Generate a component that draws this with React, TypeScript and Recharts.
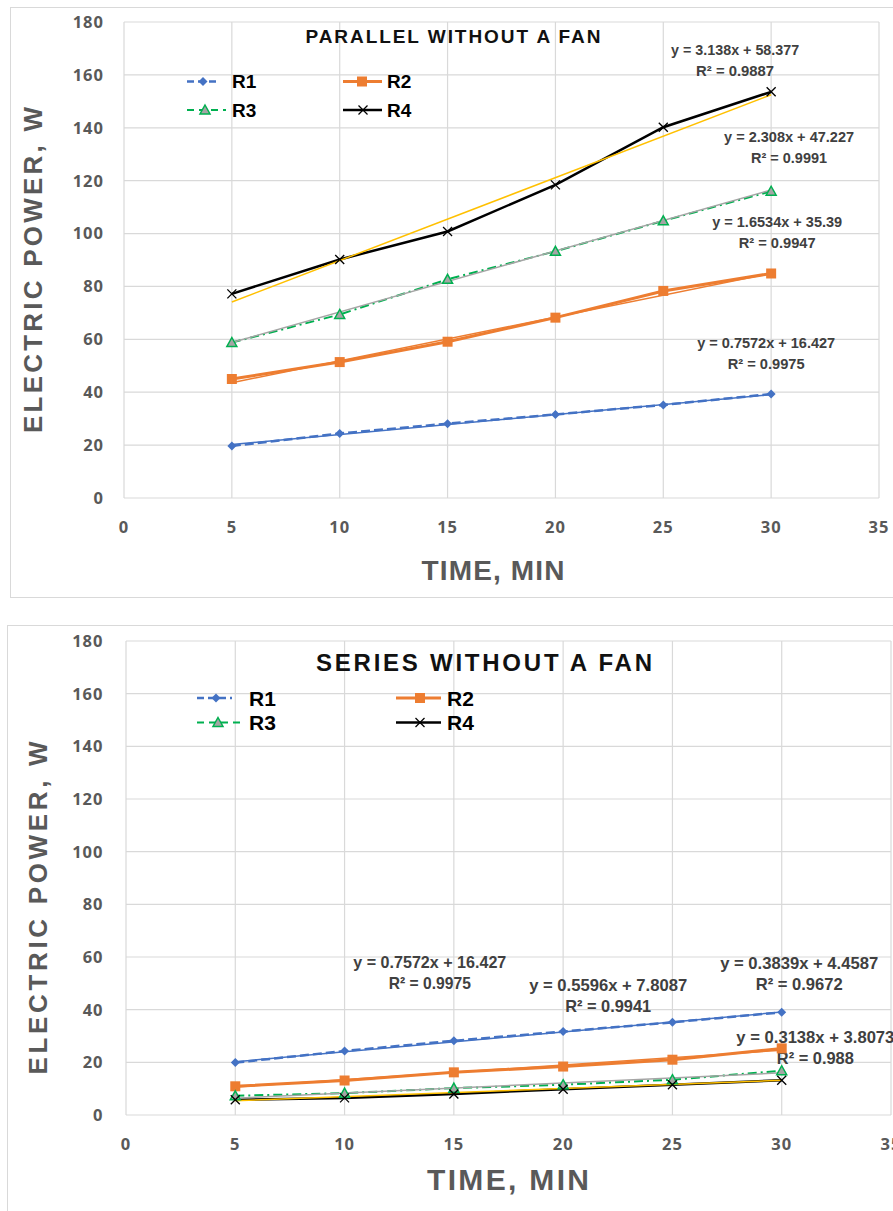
import React from 'react';
import { LineChart, Line, XAxis, YAxis, CartesianGrid, Legend, ReferenceDot, Customized } from 'recharts';

// ---------- data ----------
const TIME = [5, 10, 15, 20, 25, 30];
const TREND_TIME = [5, 30];
const X_TICKS = [0, 5, 10, 15, 20, 25, 30, 35];
const Y_TICKS = [0, 20, 40, 60, 80, 100, 120, 140, 160, 180];
const SERIES_NAMES = ['R1', 'R2', 'R3', 'R4'];

// Parallel without a fan
const PAR_R1 = [19.7, 24.4, 28.1, 31.6, 35.2, 39.3];
const PAR_R2 = [45.0, 51.4, 59.1, 68.2, 78.3, 84.9];
const PAR_R3 = [58.8, 69.4, 82.7, 93.3, 104.8, 116.0];
const PAR_R4 = [77.2, 90.2, 100.8, 118.4, 140.2, 153.6];
const PAR_TREND_R1 = [20.2, 39.1];
const PAR_TREND_R2 = [43.6, 85.0];
const PAR_TREND_R3 = [58.8, 116.5];
const PAR_TREND_R4 = [74.1, 152.5];
const PAR_EQUATIONS = ['y = 0.7572x + 16.427', 'y = 1.6534x + 35.39', 'y = 2.308x + 47.227', 'y = 3.138x + 58.377'];
const PAR_RSQ = ['R² = 0.9975', 'R² = 0.9947', 'R² = 0.9991', 'R² = 0.9887'];

// Series without a fan
const SER_R1 = [19.9, 24.3, 28.2, 31.7, 35.2, 39.0];
const SER_R2 = [10.9, 13.1, 16.2, 18.4, 21.0, 25.3];
const SER_R3 = [7.3, 8.3, 10.2, 11.5, 13.4, 16.8];
const SER_R4 = [5.8, 6.5, 8.0, 9.8, 11.5, 13.2];
const SER_TREND_R1 = [20.2, 39.1];
const SER_TREND_R2 = [10.6, 24.6];
const SER_TREND_R3 = [6.4, 16.0];
const SER_TREND_R4 = [5.4, 13.2];
const SER_EQUATIONS = ['y = 0.7572x + 16.427', 'y = 0.5596x + 7.8087', 'y = 0.3839x + 4.4587', 'y = 0.3138x + 3.8073'];
const SER_RSQ = ['R² = 0.9975', 'R² = 0.9941', 'R² = 0.9672', 'R² = 0.988'];

// ---------- styles ----------
const STYLES = [
  { color: '#4472C4', width: 2.5, dash: '9 4', legendDash: '7 4', marker: 'diamond' },
  { color: '#ED7D31', width: 3, dash: undefined, legendDash: undefined, marker: 'square' },
  { color: '#00B050', width: 2, dash: '9 4 2 4', legendDash: '7 5', marker: 'triangle' },
  { color: '#000000', width: 2.5, dash: undefined, legendDash: undefined, marker: 'x' },
];
const TREND_COLORS = ['#4472C4', '#ED7D31', '#A5A5A5', '#FFC000'];
const SANS = '"Liberation Sans", Arial, sans-serif';
const TICK_FONT = '"Open Sans", "Liberation Sans", sans-serif';
const GREY = '#595959';

function Marker({ kind, color, cx, cy }: any) {
  if (kind === 'diamond') {
    const s = 4.5;
    return <path d={`M${cx},${cy - s}L${cx + s},${cy}L${cx},${cy + s}L${cx - s},${cy}Z`} fill={color} />;
  }
  if (kind === 'square') {
    const s = 5;
    return <rect x={cx - s} y={cy - s} width={2 * s} height={2 * s} fill={color} />;
  }
  if (kind === 'triangle') {
    const s = 5;
    return <path d={`M${cx},${cy - s}L${cx + s},${cy + s * 0.8}L${cx - s},${cy + s * 0.8}Z`} fill="#A5A5A5" stroke={color} strokeWidth={1.5} />;
  }
  const s = 4.5;
  return (
    <g stroke={color} strokeWidth={1.3}>
      <line x1={cx - s} y1={cy - s} x2={cx + s} y2={cy + s} />
      <line x1={cx - s} y1={cy + s} x2={cx + s} y2={cy - s} />
    </g>
  );
}

const renderDot = (kind: string, color: string, tag: string) => (p: any) => {
  const { cx, cy, index } = p;
  if (cx == null || cy == null || p.value == null) return <g key={`${tag}-${index}`} />;
  return <Marker key={`${tag}-${index}`} kind={kind} color={color} cx={cx} cy={cy} />;
};

function buildRows(values: number[][], trends: number[][]) {
  return TIME.map((t, i) => {
    const row: any = { time: t };
    SERIES_NAMES.forEach((name, k) => {
      row[name] = values[k][i];
      const ti = TREND_TIME.indexOf(t);
      row['T' + name] = ti >= 0 ? trends[k][ti] : null;
    });
    return row;
  });
}

const makeEqLabel = (eq: string, rsq: string, wEq: number, wR: number, fs: number, gap: number) => (p: any) => {
  const vb = p.viewBox || {};
  const cx = (vb.x || 0) + (vb.width || 0) / 2;
  const cy = (vb.y || 0) + (vb.height || 0) / 2;
  const common: any = {
    textAnchor: 'middle',
    dominantBaseline: 'central',
    fontFamily: SANS,
    fontWeight: 700,
    fontSize: fs,
    fill: '#404040',
    lengthAdjust: 'spacingAndGlyphs',
  };
  return (
    <g>
      <text x={cx} y={cy - gap} textLength={wEq} {...common}>{eq}</text>
      <text x={cx} y={cy + gap} textLength={wR} {...common}>{rsq}</text>
    </g>
  );
};

function LegendSvg({ items, fontSize, width, height }: any) {
  return (
    <svg width={width} height={height} style={{ display: 'block' }}>
      {items.map((it: any, k: number) => {
        const st = STYLES[k];
        return (
          <g key={SERIES_NAMES[k]}>
            <line x1={it.x1} x2={it.x2} y1={it.y} y2={it.y} stroke={st.color} strokeWidth={st.width} strokeDasharray={st.legendDash} />
            <Marker kind={st.marker} color={st.color} cx={it.mx} cy={it.y} />
            <text x={it.tx} y={it.y} dominantBaseline="central" fontFamily={SANS} fontWeight={700} fontSize={fontSize} fill="#000">
              {SERIES_NAMES[k]}
            </text>
          </g>
        );
      })}
    </svg>
  );
}

function Panel({ cfg }: any) {
  const rows = buildRows(cfg.values, cfg.trends);
  const Annot = () => (
    <g>
      <text x={cfg.title.x} y={cfg.title.y} textAnchor="middle" dominantBaseline="central" fontFamily={SANS} fontWeight={700}
        fontSize={cfg.title.size} fill="#111" textLength={cfg.title.w} lengthAdjust="spacing">{cfg.title.text}</text>
      <text x={cfg.xTitle.x} y={cfg.xTitle.y} textAnchor="middle" dominantBaseline="central" fontFamily={SANS} fontWeight={700}
        fontSize={cfg.xTitle.size} fill={GREY} textLength={cfg.xTitle.w} lengthAdjust="spacing">TIME, MIN</text>
      <text x={cfg.yTitle.x} y={cfg.yTitle.y} transform={`rotate(-90 ${cfg.yTitle.x} ${cfg.yTitle.y})`} textAnchor="middle"
        dominantBaseline="central" fontFamily={SANS} fontWeight={700} fontSize={cfg.yTitle.size} fill={GREY}
        textLength={cfg.yTitle.w} lengthAdjust="spacing">ELECTRIC POWER, W</text>
    </g>
  );
  return (
    <div style={{ position: 'absolute', left: 0, top: cfg.top, width: 893, height: cfg.height }}>
      <div style={{ position: 'absolute', left: cfg.frame.left, top: cfg.frame.top, width: 950, height: cfg.frame.height, border: '1px solid #d9d9d9', boxSizing: 'border-box' }} />
      <LineChart width={893} height={cfg.height} data={rows} margin={cfg.margin} style={{ position: 'absolute', left: 0, top: 0 }}>
        <CartesianGrid stroke="#d9d9d9" strokeWidth={1.2} />
        <XAxis type="number" dataKey="time" domain={[0, 35]} ticks={X_TICKS} interval={0} height={30}
          axisLine={false} tickLine={false} tickSize={0} tickMargin={23}
          tick={{ fill: GREY, fontSize: 16.5, fontWeight: 700, fontFamily: TICK_FONT, letterSpacing: 1 }} />
        <YAxis type="number" domain={[0, 180]} ticks={Y_TICKS} interval={0} width={cfg.yAxisWidth}
          axisLine={false} tickLine={false} tickSize={0} tickMargin={cfg.yTickMargin}
          tick={{ fill: GREY, fontSize: 16.5, fontWeight: 700, fontFamily: TICK_FONT, letterSpacing: 1 }} />
        {SERIES_NAMES.map((name, k) => (
          <Line key={name} dataKey={name} name={name} type="linear" stroke={STYLES[k].color} strokeWidth={STYLES[k].width}
            strokeDasharray={STYLES[k].dash} dot={renderDot(STYLES[k].marker, STYLES[k].color, cfg.tag + name)}
            activeDot={false} isAnimationActive={false} legendType="none" />
        ))}
        {SERIES_NAMES.map((name, k) => (
          <Line key={'T' + name} dataKey={'T' + name} type="linear" stroke={TREND_COLORS[k]} strokeWidth={1.5}
            connectNulls dot={false} activeDot={false} isAnimationActive={false} legendType="none" />
        ))}
        {cfg.labels.map((lb: any, k: number) => (
          <ReferenceDot key={'L' + k} x={lb.x} y={lb.y} r={0} fill="none" stroke="none" ifOverflow="visible" isFront
            label={{ content: makeEqLabel(cfg.equations[k], cfg.rsq[k], lb.wEq, lb.wR, cfg.eqFont, cfg.eqGap) }} />
        ))}
        <Customized component={Annot} />
        <Legend layout="vertical" align="center" verticalAlign="middle"
          wrapperStyle={{ left: 0, top: 0, width: 893, height: 140, pointerEvents: 'none' }}
          content={() => <LegendSvg items={cfg.legend} fontSize={cfg.legendFont} width={893} height={140} />} />
      </LineChart>
    </div>
  );
}

const PARALLEL = {
  tag: 'p',
  top: 0,
  height: 600,
  frame: { left: 10, top: 7, height: 591 },
  margin: { top: 22, right: 14, bottom: 72, left: 0 },
  yAxisWidth: 124,
  yTickMargin: 20,
  values: [PAR_R1, PAR_R2, PAR_R3, PAR_R4],
  trends: [PAR_TREND_R1, PAR_TREND_R2, PAR_TREND_R3, PAR_TREND_R4],
  equations: PAR_EQUATIONS,
  rsq: PAR_RSQ,
  eqFont: 15,
  eqGap: 10.5,
  labels: [
    { x: 29.77, y: 55.0, wEq: 138, wR: 77 },
    { x: 30.28, y: 100.7, wEq: 130, wR: 77 },
    { x: 30.83, y: 132.7, wEq: 130, wR: 76 },
    { x: 28.33, y: 165.8, wEq: 128, wR: 78 },
  ],
  title: { text: 'PARALLEL WITHOUT A FAN', x: 453, y: 36, size: 19, w: 295 },
  xTitle: { x: 493, y: 570, size: 28, w: 143 },
  yTitle: { x: 33, y: 270, size: 26, w: 326 },
  legendFont: 19,
  legend: [
    { x1: 187, x2: 217, mx: 203, tx: 232, y: 81.5 },
    { x1: 343, x2: 382, mx: 362, tx: 387, y: 81.5 },
    { x1: 187, x2: 226, mx: 205, tx: 232, y: 110 },
    { x1: 343, x2: 382, mx: 363, tx: 387, y: 110 },
  ],
};

const SERIES = {
  tag: 's',
  top: 600,
  height: 611,
  frame: { left: 7, top: 25, height: 620 },
  margin: { top: 41, right: 2, bottom: 66, left: 0 },
  yAxisWidth: 126,
  yTickMargin: 22.5,
  values: [SER_R1, SER_R2, SER_R3, SER_R4],
  trends: [SER_TREND_R1, SER_TREND_R2, SER_TREND_R3, SER_TREND_R4],
  equations: SER_EQUATIONS,
  rsq: SER_RSQ,
  eqFont: 17,
  eqGap: 10.5,
  labels: [
    { x: 13.9, y: 54.1, wEq: 153, wR: 82 },
    { x: 22.06, y: 45.3, wEq: 158, wR: 86 },
    { x: 30.8, y: 53.6, wEq: 158, wR: 87 },
    { x: 31.54, y: 25.3, wEq: 158, wR: 77 },
  ],
  title: { text: 'SERIES WITHOUT A FAN', x: 484, y: 62, size: 24, w: 336 },
  xTitle: { x: 508, y: 579, size: 30, w: 162 },
  yTitle: { x: 38, y: 308, size: 26, w: 333 },
  legendFont: 21,
  legend: [
    { x1: 197, x2: 232, mx: 216, tx: 249, y: 98 },
    { x1: 396, x2: 441, mx: 420, tx: 447, y: 98 },
    { x1: 197, x2: 242, mx: 218, tx: 249, y: 122.5 },
    { x1: 396, x2: 441, mx: 420, tx: 447, y: 122.5 },
  ],
};

export default function App() {
  return (
    <div style={{ position: 'absolute', left: 0, top: 0, width: 893, height: 1211, overflow: 'hidden', background: '#fff' }}>
      <Panel cfg={PARALLEL} />
      <Panel cfg={SERIES} />
    </div>
  );
}
